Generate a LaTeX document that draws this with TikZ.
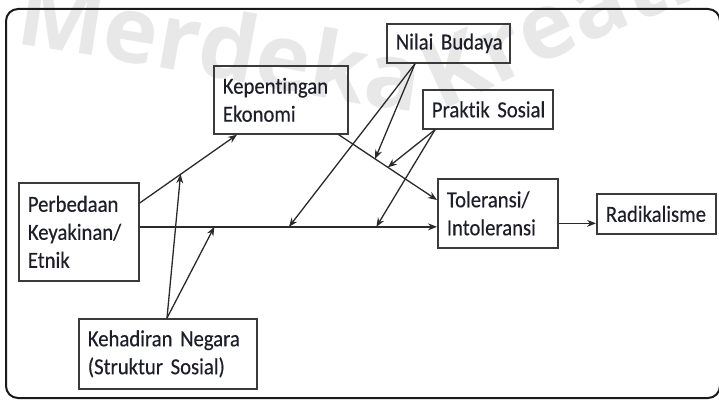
\documentclass[tikz,border=0pt]{standalone}
\usepackage{fontspec}
\setmainfont{Carlito}[FakeStretch=0.9, Ligatures=NoCommon, FakeBold=0.35]
\newfontfamily\wmfont{Open Sans}
\usetikzlibrary{arrows.meta,calc,decorations.text}
\definecolor{boxcol}{HTML}{3A3A3A}
\definecolor{linecol}{HTML}{2A2A2A}
\definecolor{txtcol}{HTML}{1E1E2A}
\definecolor{framecol}{HTML}{1A1A1A}
\definecolor{wmcol}{HTML}{E8E8E8}
\begin{document}
\begin{tikzpicture}[x=1pt,y=-1pt,
  box/.style={draw=boxcol, line width=1.7pt, inner xsep=9pt, inner ysep=0pt,
    align=left, text=txtcol, font=\fontsize{23}{28}\selectfont, anchor=north west},
  conn/.style={draw=linecol, line width=1.3pt, -{Stealth[length=9pt,width=7pt]}},
  wmark/.style={decorate, decoration={text along path, text align=left,
    text={|\wmfont\bfseries\fontsize{92}{92}\selectfont\color{wmcol}|Merdeka Kreatif}}}
]
\useasboundingbox (0,0) rectangle (719,401);
% watermark
\path[wmark] (14,44) .. controls (200,70) and (390,116) .. (430,112)
   .. controls (470,108) and (540,50) .. (780,-30);
% frame
\draw[line width=2pt, draw=framecol, rounded corners=12pt] (6,9) rectangle (720,398);
% boxes
\node[box, minimum width=120pt, minimum height=98pt, text width=102pt] (per) at (18,182) {\mbox{Perbedaan}\\\mbox{Keyakinan/}\\\mbox{Etnik}};
\node[box, minimum width=178pt, minimum height=70pt, text width=160pt] (keh) at (78,318) {\mbox{Kehadiran Negara}\\\mbox{(Struktur Sosial)}};
\node[box, minimum width=134pt, minimum height=68pt, text width=116pt] (kep) at (213,65) {\mbox{Kepentingan}\\\mbox{Ekonomi}};
\node[box, minimum width=123pt, minimum height=39pt, text width=105pt] (nil) at (386,23) {\mbox{Nilai Budaya}};
\node[box, minimum width=130pt, minimum height=39pt, text width=112pt] (pra) at (422,89) {\mbox{Praktik Sosial}};
\node[box, minimum width=120pt, minimum height=69pt, text width=102pt] (tol) at (437,178) {\mbox{Toleransi/}\\\mbox{Intoleransi}};
\node[box, minimum width=119pt, minimum height=40pt, text width=101pt] (rad) at (596,193) {\mbox{Radikalisme}};
% main lines
\draw[conn] ([yshift=-21pt]per.north east) -- ([xshift=24pt]kep.south west);
\path ([yshift=-21pt]per.north east) -- ([xshift=24pt]kep.south west) coordinate[pos=0.42] (m1);
\draw[conn] ([yshift=5pt]per.east) -- ([yshift=5pt]per.east -| tol.west);
\path ([yshift=5pt]per.east) -- ([yshift=5pt]per.east -| tol.west)
  coordinate[pos=0.251] (m2) coordinate[pos=0.502] (m3) coordinate[pos=0.796] (m4);
\draw[conn] ([xshift=-10pt]kep.south east) -- ([yshift=-22pt]tol.north west);
\path ([xshift=-10pt]kep.south east) -- ([yshift=-22pt]tol.north west)
  coordinate[pos=0.37] (m5) coordinate[pos=0.5] (m6);
% moderators
\draw[conn] ([xshift=89pt]keh.north west) -- (m1);
\draw[conn] ([xshift=89pt]keh.north west) -- (m2);
\draw[conn] ([xshift=29pt]nil.south west) -- (m3);
\draw[conn] ([xshift=29pt]nil.south west) -- (m5);
\draw[conn] ([xshift=13pt]pra.south west) -- (m6);
\draw[conn] ([xshift=13pt]pra.south west) -- (m4);
% output
\draw[conn] ([yshift=-10pt]tol.east) -- ([yshift=-10pt]tol.east -| rad.west);
\end{tikzpicture}
\end{document}
